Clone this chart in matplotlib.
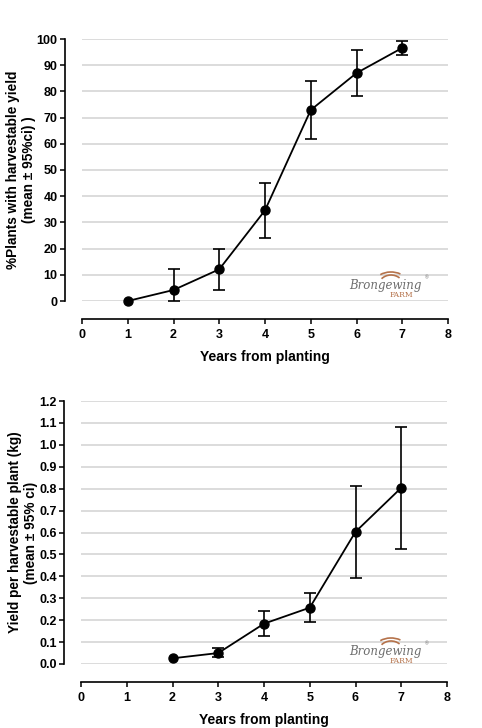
import numpy as np
import matplotlib
matplotlib.use("Agg")
import matplotlib.pyplot as plt
from matplotlib.patches import Arc

plt.rcParams["font.family"] = ["Liberation Sans", "DejaVu Sans"]
plt.rcParams["font.weight"] = "bold"

# ---------------------------------------------------------------------------
# Data
# ---------------------------------------------------------------------------

years_top = [1, 2, 3, 4, 5, 6, 7]
pct_mean = [0.0, 4.2, 12.1, 34.6, 72.9, 87.0, 96.6]
pct_low = [0.0, 0.0, 4.3, 23.9, 62.0, 78.2, 93.9]
pct_high = [0.0, 12.3, 20.0, 45.2, 83.8, 95.7, 99.4]

years_bot = [2, 3, 4, 5, 6, 7]
kg_mean = [0.026, 0.050, 0.184, 0.257, 0.603, 0.804]
kg_low = [0.026, 0.032, 0.126, 0.190, 0.393, 0.524]
kg_high = [0.026, 0.072, 0.244, 0.324, 0.812, 1.081]

x_ticks = list(range(0, 9))
top_yticks = list(range(0, 101, 10))
bot_yticks = [round(0.1 * i, 1) for i in range(13)]

W, H = 482, 728
fig = plt.figure(figsize=(W / 100, H / 100), dpi=100)


def px_axes(left, top, right, bottom):
    return fig.add_axes([left / W, 1 - bottom / H, (right - left) / W, (bottom - top) / H])


def add_logo(xc, yc):
    # rough text stand-in for the "Brongewing FARM" watermark
    fig.text(xc / W, 1 - yc / H, "Brongewing", family="DejaVu Serif", style="italic",
             weight="normal", fontsize=8.5, color="#6e6e6e", ha="center", va="center")
    fig.text((xc + 16) / W, 1 - (yc + 9) / H, "FARM", family="DejaVu Serif",
             weight="normal", fontsize=5.5, color="#b5724a", ha="center", va="center")
    fig.text((xc + 42) / W, 1 - (yc - 8) / H, "\u00ae", fontsize=3.5, weight="normal",
             color="#6e6e6e", ha="center", va="center")
    for dy, w in [(0, 34), (3, 26)]:
        arc = Arc(((xc + 6) / W, 1 - (yc - 2 + dy) / H), w / W, 24 / H, theta1=35,
                  theta2=150, transform=fig.transFigure, color="#b5724a", lw=1.2)
        fig.add_artist(arc)


def style(ax, ymax, yticks, fmt):
    ax.set_xlim(0, 8)
    ax.set_ylim(0, ymax)
    ax.set_xticks(x_ticks)
    ax.set_yticks(yticks)
    ax.set_yticklabels([fmt(v) for v in yticks])
    ax.spines["top"].set_visible(False)
    ax.spines["right"].set_visible(False)
    ax.spines["left"].set_position(("outward", 12))
    ax.spines["bottom"].set_position(("outward", 13))
    for s in ("left", "bottom"):
        ax.spines[s].set_linewidth(1.2)
    ax.grid(axis="y", color="#d9d9d9", lw=1.3)
    ax.set_axisbelow(True)
    ax.tick_params(axis="both", direction="out", length=3.5, width=1.1,
                   labelsize=9, pad=2)
    ax.tick_params(axis="x", pad=4)
    for lab in ax.get_xticklabels() + ax.get_yticklabels():
        lab.set_fontweight("bold")
    ax.set_xlabel("Years from planting", fontsize=10, fontweight="bold", labelpad=6)


# ---------------------------------------------------------------------------
# Top panel: % plants with harvestable yield
# ---------------------------------------------------------------------------

ax1 = px_axes(82, 39, 448, 301)
yerr1 = [np.array(pct_mean) - np.array(pct_low), np.array(pct_high) - np.array(pct_mean)]
ax1.plot(years_top, pct_mean, color="black", lw=1.3, marker="o", ms=6.5, clip_on=False, zorder=3)
ax1.errorbar(years_top[1:], pct_mean[1:], yerr=[yerr1[0][1:], yerr1[1][1:]], fmt="none",
             ecolor="black", elinewidth=1.2, capsize=4, capthick=1.2, clip_on=False)
style(ax1, 100, top_yticks, lambda v: f"{v:d}")
ax1.set_ylabel("%Plants with harvestable yield\n(mean \u00b1 95%ci) )", fontsize=9.8,
               fontweight="bold", linespacing=1.2)
ax1.yaxis.set_label_coords((36 - 82) / 366, 0.5)
add_logo(385, 286)

# ---------------------------------------------------------------------------
# Bottom panel: yield per harvestable plant
# ---------------------------------------------------------------------------

ax2 = px_axes(81, 401, 447, 664)
yerr2 = [np.array(kg_mean) - np.array(kg_low), np.array(kg_high) - np.array(kg_mean)]
ax2.plot(years_bot, kg_mean, color="black", lw=1.3, marker="o", ms=6.5, clip_on=False, zorder=3)
ax2.errorbar(years_bot[1:], kg_mean[1:], yerr=[yerr2[0][1:], yerr2[1][1:]], fmt="none",
             ecolor="black", elinewidth=1.2, capsize=4, capthick=1.2, clip_on=False)
style(ax2, 1.2, bot_yticks, lambda v: f"{v:.1f}")
ax2.set_ylabel("Yield per harvestable plant (kg)\n(mean \u00b1 95% ci)", fontsize=9.8,
               fontweight="bold", linespacing=1.2)
ax2.yaxis.set_label_coords((38 - 81) / 366, 0.5)
add_logo(385, 652)

fig.savefig("out.png", dpi=100)
